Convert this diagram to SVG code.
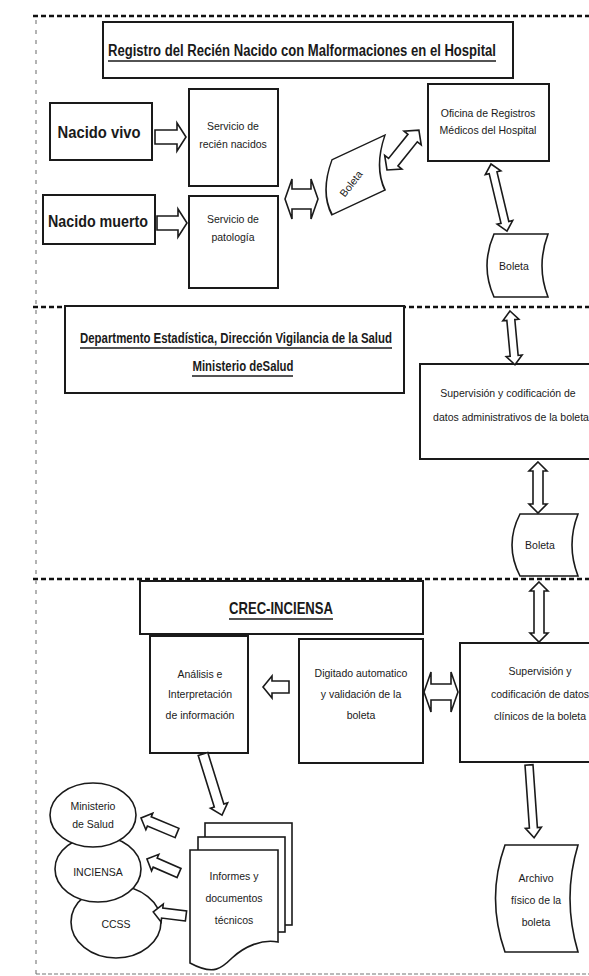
<svg xmlns="http://www.w3.org/2000/svg" width="589" height="976" viewBox="0 0 589 976">
<style>
.bg{fill:#fff}
.sep{stroke:#111;stroke-width:2.5;stroke-dasharray:5 3;fill:none}
.vsep{stroke:#9a9a9a;stroke-width:1.5;stroke-dasharray:4 6;fill:none}
.box{fill:#fff;stroke:#1a1a1a;stroke-width:2}
.shape{fill:#fff;stroke:#1a1a1a;stroke-width:1.6}
.arr{fill:#fff;stroke:#1a1a1a;stroke-width:1.6;stroke-linejoin:miter}
.t{font-family:"Liberation Sans",Arial,sans-serif;fill:#1a1a1a;text-anchor:middle}
.s{font-size:10.5px}
.big{font-size:17px;font-weight:bold}
.ttl{font-size:16px;font-weight:bold}
.ul{stroke:#1a1a1a;stroke-width:1.6}
</style>
<rect class="bg" x="0" y="0" width="589" height="976"/>

<g id="separators">
<line class="sep" x1="33" y1="16" x2="589" y2="16"/>
<line class="sep" x1="33" y1="307" x2="589" y2="307"/>
<line class="sep" x1="33" y1="579" x2="589" y2="579"/>
<line class="vsep" x1="36" y1="20" x2="36" y2="976"/>
<line stroke="#777" stroke-width="1.2" stroke-dasharray="4 2" x1="36" y1="974" x2="589" y2="974"/>
</g>

<g id="title-hospital">
<rect class="box" x="103" y="22" width="410" height="56"/>
<text class="t ttl" x="302" y="56" textLength="388" lengthAdjust="spacingAndGlyphs">Registro del Recién Nacido con Malformaciones en el Hospital</text>
<line class="ul" x1="108" y1="61" x2="496" y2="61"/>
</g>

<g id="nacido-vivo">
<rect class="box" x="50" y="103" width="102" height="57"/>
<text class="t big" x="99" y="138" textLength="83" lengthAdjust="spacingAndGlyphs">Nacido vivo</text>
</g>

<g id="nacido-muerto">
<rect class="box" x="43" y="195" width="112" height="49"/>
<text class="t big" x="98" y="227" textLength="100" lengthAdjust="spacingAndGlyphs">Nacido muerto</text>
</g>

<g id="servicio-rn">
<rect class="box" x="189" y="89" width="89" height="97"/>
<text class="t s" x="233" y="130">Servicio de</text>
<text class="t s" x="233" y="148">recién nacidos</text>
</g>

<g id="servicio-patologia">
<rect class="box" x="189" y="196" width="89" height="92"/>
<text class="t s" x="233" y="223">Servicio de</text>
<text class="t s" x="233" y="241">patología</text>
</g>

<g id="boleta-1">
<path class="shape" transform="translate(325,163) skewY(-25)" d="M7,0 H60 Q49,27 60,55 H7 Q-5,27 7,0 Z"/>
<text class="t s" transform="translate(354,186) rotate(-52)" x="0" y="0">Boleta</text>
</g>

<g id="oficina">
<rect class="box" x="428" y="84" width="121" height="77"/>
<text class="t s" x="488" y="117">Oficina de Registros</text>
<text class="t s" x="488" y="134">Médicos del Hospital</text>
</g>

<g id="boleta-2">
<path class="shape" d="M494,234 H548 Q536,266 548,297 H494 Q480,266 494,234 Z"/>
<text class="t s" x="514" y="270">Boleta</text>
</g>

<g id="title-ministerio">
<rect class="box" x="65" y="306" width="339" height="87"/>
<text class="t ttl" x="236" y="343" textLength="312" lengthAdjust="spacingAndGlyphs" style="font-size:14.5px">Departmento Estadística, Dirección Vigilancia de la Salud</text>
<line class="ul" x1="80" y1="348" x2="392" y2="348"/>
<text class="t ttl" x="243" y="371" textLength="101" lengthAdjust="spacingAndGlyphs" style="font-size:14.5px">Ministerio deSalud</text>
<line class="ul" x1="192" y1="376" x2="293" y2="376"/>
</g>

<g id="supervision-admin">
<rect class="box" x="420" y="364" width="175" height="95"/>
<text class="t s" x="508" y="397">Supervisión y codificación de</text>
<text class="t s" x="511" y="421">datos administrativos de la boleta</text>
</g>

<g id="boleta-3">
<path class="shape" d="M520,514 H578 Q566,545 578,576 H520 Q504,545 520,514 Z"/>
<text class="t s" x="540" y="549">Boleta</text>
</g>

<g id="title-crec">
<rect class="box" x="140" y="581" width="283" height="53"/>
<text class="t big" x="281" y="614" textLength="104" lengthAdjust="spacingAndGlyphs">CREC-INCIENSA</text>
<line class="ul" x1="229" y1="619" x2="333" y2="619"/>
</g>

<g id="analisis">
<rect class="box" x="150" y="636" width="98" height="117"/>
<text class="t s" x="200" y="678">Análisis e</text>
<text class="t s" x="200" y="698">Interpretación</text>
<text class="t s" x="200" y="719">de información</text>
</g>

<g id="digitado">
<rect class="box" x="299" y="639" width="124" height="124"/>
<text class="t s" x="361" y="677">Digitado automatico</text>
<text class="t s" x="361" y="698">y validación de la</text>
<text class="t s" x="361" y="719">boleta</text>
</g>

<g id="supervision-clinicos">
<rect class="box" x="460" y="643" width="135" height="119"/>
<text class="t s" x="540" y="675">Supervisión y</text>
<text class="t s" x="540" y="698">codificación de datos</text>
<text class="t s" x="540" y="720">clínicos de la boleta</text>
</g>

<g id="archivo">
<path class="shape" d="M505,845 H578 Q562,898 578,952 H505 Q486,898 505,845 Z"/>
<text class="t s" x="536" y="882">Archivo</text>
<text class="t s" x="536" y="904">físico de la</text>
<text class="t s" x="536" y="926">boleta</text>
</g>

<g id="informes">
<rect class="shape" x="205" y="823" width="87" height="102"/>
<rect class="shape" x="198" y="837" width="87" height="95"/>
<path class="shape" d="M190,850 H278 V942 C262,939 245,946 232,958 C222,968 214,976 190,963 Z"/>
<text class="t s" x="234" y="880">Informes y</text>
<text class="t s" x="234" y="902">documentos</text>
<text class="t s" x="234" y="924">técnicos</text>
</g>

<g id="ccss">
<ellipse class="shape" cx="116" cy="922" rx="45" ry="36"/>
<text class="t s" x="116" y="928">CCSS</text>
</g>

<g id="inciensa">
<ellipse class="shape" cx="98" cy="869" rx="43" ry="33"/>
<text class="t s" x="98" y="876">INCIENSA</text>
</g>

<g id="ministerio-salud">
<ellipse class="shape" cx="93" cy="815" rx="43" ry="32"/>
<text class="t s" x="93" y="810">Ministerio</text>
<text class="t s" x="93" y="828">de Salud</text>
</g>

<g id="connectors">
<path class="arr" transform="translate(155,137)" d="M0,-7 H22 V-14 L31,0 L22,14 V7 H0 Z"/>
<path class="arr" transform="translate(157,223)" d="M0,-7 H21 V-14 L30,0 L21,14 V7 H0 Z"/>
<path class="arr" transform="translate(285,199)" d="M0,0 L7,-20 V-10 H26 V-20 L33,0 L26,20 V10 H7 V20 Z"/>
<path class="arr" transform="translate(387,170) rotate(-51.3)" d="M0,0 L10,-11 V-6 H41 V-11 L51,0 L41,11 V6 H10 V11 Z"/>
<path class="arr" transform="translate(491,164) rotate(76.6)" d="M0,0 L9,-8 V-4 H60 V-8 L69,0 L60,8 V4 H9 V8 Z"/>
<path class="arr" transform="translate(510,311) rotate(84.7)" d="M0,0 L9,-8 V-4 H45 V-8 L54,0 L45,8 V4 H9 V8 Z"/>
<path class="arr" transform="translate(538,462) rotate(90)" d="M0,0 L9,-9 V-5 H42 V-9 L51,0 L42,9 V5 H9 V9 Z"/>
<path class="arr" transform="translate(539,582) rotate(90)" d="M0,0 L9,-9 V-5 H51 V-9 L60,0 L51,9 V5 H9 V9 Z"/>
<path class="arr" transform="translate(289,687) rotate(180)" d="M0,-6 H17 V-11 L26,0 L17,11 V6 H0 Z"/>
<path class="arr" transform="translate(424,692)" d="M0,0 L7,-20 V-8 H27 V-20 L34,0 L27,20 V8 H7 V20 Z"/>
<path class="arr" transform="translate(529,765) rotate(86)" d="M0,-4 H63 V-8 L73,0 L63,8 V4 H0 Z"/>
<path class="arr" transform="translate(203,754) rotate(72.7)" d="M0,-5 H54 V-9 L64,0 L54,9 V5 H0 Z"/>
<path class="arr" transform="translate(177,833) rotate(202.6)" d="M0,-5 H30 V-9 L39,0 L30,9 V5 H0 Z"/>
<path class="arr" transform="translate(179,873) rotate(203.6)" d="M0,-5 H26 V-9 L35,0 L26,9 V5 H0 Z"/>
<path class="arr" transform="translate(186,916) rotate(187)" d="M0,-5 H24 V-9 L33,0 L24,9 V5 H0 Z"/>
</g>
</svg>
